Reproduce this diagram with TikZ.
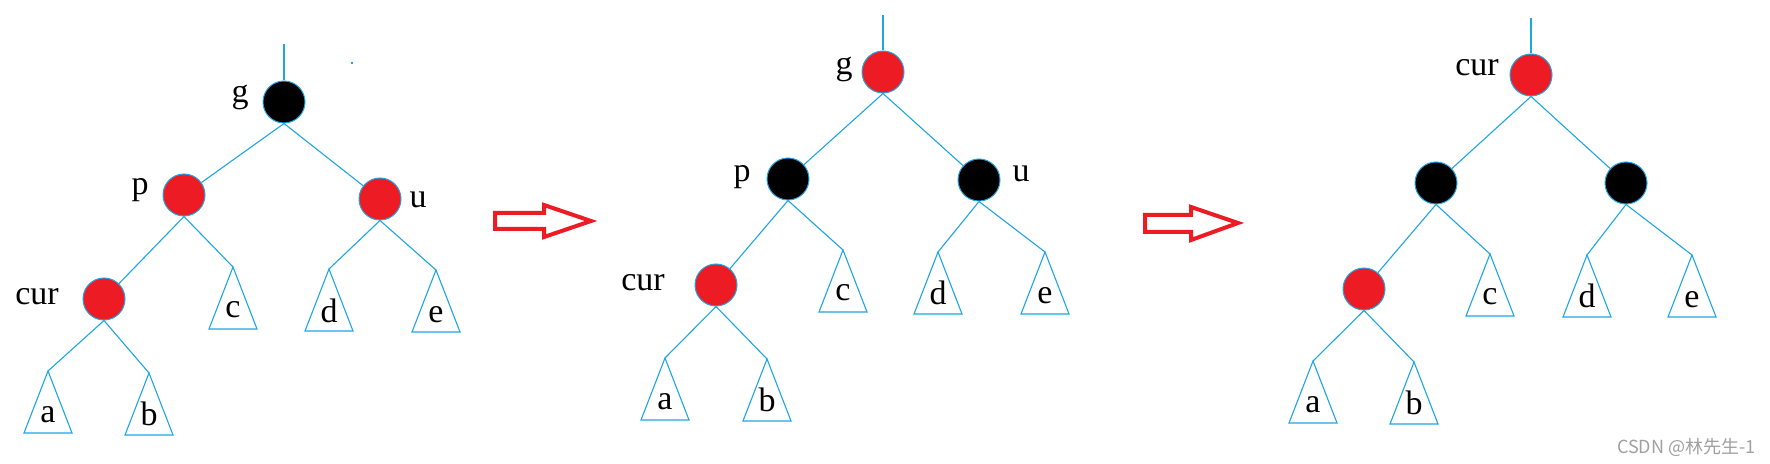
\documentclass[tikz,border=0pt]{standalone}
\usepackage{fontspec}
\setmainfont{Liberation Serif}
\newfontfamily\cjk{Noto Sans CJK SC}
\usetikzlibrary{calc}
\definecolor{linkblue}{RGB}{30,165,230}
\definecolor{paintred}{RGB}{237,28,36}
\definecolor{markgray}{RGB}{160,160,160}

\begin{document}
\begin{tikzpicture}[x=0.5pt,y=-0.5pt,font=\fontsize{17}{20}\selectfont]
\tikzstyle{rednode}=[circle,draw=linkblue,line width=0.5pt,fill=paintred,minimum size=21pt,inner sep=0pt]
\tikzstyle{blacknode}=[rednode,fill=black]
\tikzstyle{link}=[draw=linkblue,line width=0.55pt]
\tikzstyle{leaf}=[anchor=base,inner sep=0pt]
\tikzstyle{bigarrow}=[draw=paintred,line width=2pt,line join=miter]
\useasboundingbox (0,0) rectangle (1770,464);

% before
\coordinate (top1) at (284,44);
\node[blacknode] (g1) at (284,102) {};
\node[rednode] (p1) at (184,195) {};
\node[rednode] (u1) at (380,199) {};
\node[rednode] (x1) at (104,299) {};
\node (lg1) at (240,97) {g};
\node (lp1) at (140,190) {p};
\node (lu1) at (418,200) {u};
\node (lx1) at (37,297) {cur};
\coordinate (a1) at (48,371);
\coordinate (b1) at (149,373);
\coordinate (c1) at (233,267);
\coordinate (d1) at (329,269);
\coordinate (e1) at (436,270);
\draw[link] (a1) -- ++(-24,62) -- ++(48,0) -- cycle;
\draw[link] (b1) -- ++(-24,62) -- ++(48,0) -- cycle;
\draw[link] (c1) -- ++(-24,62) -- ++(48,0) -- cycle;
\draw[link] (d1) -- ++(-24,62) -- ++(48,0) -- cycle;
\draw[link] (e1) -- ++(-24,62) -- ++(48,0) -- cycle;
\node[leaf] (la1) at ($(a1)+(0,51)$) {a};
\node[leaf] (lb1) at ($(b1)+(0,52)$) {b};
\node[leaf] (lc1) at ($(c1)+(0,51)$) {c};
\node[leaf] (ld1) at ($(d1)+(0,53)$) {d};
\node[leaf] (le1) at ($(e1)+(0,52)$) {e};
\draw[link] (top1) -- (g1);
\draw[link] (g1.south) -- (p1);
\draw[link] (g1.south) -- (u1);
\draw[link] (p1.south) -- (x1);
\draw[link] (p1.south) -- (c1);
\draw[link] (u1.south) -- (d1);
\draw[link] (u1.south) -- (e1);
\draw[link] (x1.south) -- (a1);
\draw[link] (x1.south) -- (b1);
\fill[linkblue] (351,62) rectangle (353,64);

\draw[bigarrow] (495,213) -- (544,213) -- (544,205) -- (591,221) -- (544,237) -- (544,229) -- (495,229) -- cycle;

% recolour
\coordinate (top2) at (883,15);
\node[rednode] (g2) at (883,72) {};
\node[blacknode] (p2) at (788,179) {};
\node[blacknode] (u2) at (979,180) {};
\node[rednode] (x2) at (716,285) {};
\node (lg2) at (844,69) {g};
\node (lp2) at (742,177) {p};
\node (lu2) at (1021,174) {u};
\node (lx2) at (643,283) {cur};
\coordinate (a2) at (665,358);
\coordinate (b2) at (767,359);
\coordinate (c2) at (843,250);
\coordinate (d2) at (938,252);
\coordinate (e2) at (1045,252);
\draw[link] (a2) -- ++(-24,62) -- ++(48,0) -- cycle;
\draw[link] (b2) -- ++(-24,62) -- ++(48,0) -- cycle;
\draw[link] (c2) -- ++(-24,62) -- ++(48,0) -- cycle;
\draw[link] (d2) -- ++(-24,62) -- ++(48,0) -- cycle;
\draw[link] (e2) -- ++(-24,62) -- ++(48,0) -- cycle;
\node[leaf] (la2) at ($(a2)+(0,51)$) {a};
\node[leaf] (lb2) at ($(b2)+(0,52)$) {b};
\node[leaf] (lc2) at ($(c2)+(0,51)$) {c};
\node[leaf] (ld2) at ($(d2)+(0,53)$) {d};
\node[leaf] (le2) at ($(e2)+(0,52)$) {e};
\draw[link] (top2) -- (g2);
\draw[link] (g2.south) -- (p2);
\draw[link] (g2.south) -- (u2);
\draw[link] (p2.south) -- (x2);
\draw[link] (p2.south) -- (c2);
\draw[link] (u2.south) -- (d2);
\draw[link] (u2.south) -- (e2);
\draw[link] (x2.south) -- (a2);
\draw[link] (x2.south) -- (b2);

\draw[bigarrow] (1145,215) -- (1191,215) -- (1191,207) -- (1238,223) -- (1191,240) -- (1191,232) -- (1145,232) -- cycle;

% after
\coordinate (top3) at (1531,18);
\node[rednode] (r3) at (1531,75) {};
\node[blacknode] (p3) at (1436,183) {};
\node[blacknode] (u3) at (1626,183) {};
\node[rednode] (x3) at (1364,289) {};
\node (lr3) at (1477,68) {cur};
\coordinate (a3) at (1313,361);
\coordinate (b3) at (1414,362);
\coordinate (c3) at (1490,254);
\coordinate (d3) at (1587,255);
\coordinate (e3) at (1692,255);
\draw[link] (a3) -- ++(-24,62) -- ++(48,0) -- cycle;
\draw[link] (b3) -- ++(-24,62) -- ++(48,0) -- cycle;
\draw[link] (c3) -- ++(-24,62) -- ++(48,0) -- cycle;
\draw[link] (d3) -- ++(-24,62) -- ++(48,0) -- cycle;
\draw[link] (e3) -- ++(-24,62) -- ++(48,0) -- cycle;
\node[leaf] (la3) at ($(a3)+(0,51)$) {a};
\node[leaf] (lb3) at ($(b3)+(0,52)$) {b};
\node[leaf] (lc3) at ($(c3)+(0,51)$) {c};
\node[leaf] (ld3) at ($(d3)+(0,53)$) {d};
\node[leaf] (le3) at ($(e3)+(0,52)$) {e};
\draw[link] (top3) -- (r3);
\draw[link] (r3.south) -- (p3);
\draw[link] (r3.south) -- (u3);
\draw[link] (p3.south) -- (x3);
\draw[link] (p3.south) -- (c3);
\draw[link] (u3.south) -- (d3);
\draw[link] (u3.south) -- (e3);
\draw[link] (x3.south) -- (a3);
\draw[link] (x3.south) -- (b3);

\node[anchor=east,inner sep=0pt,text=markgray,font=\cjk\fontsize{9}{11}\selectfont] (mark) at (1756,447) {CSDN @林先生-1};
\end{tikzpicture}
\end{document}
